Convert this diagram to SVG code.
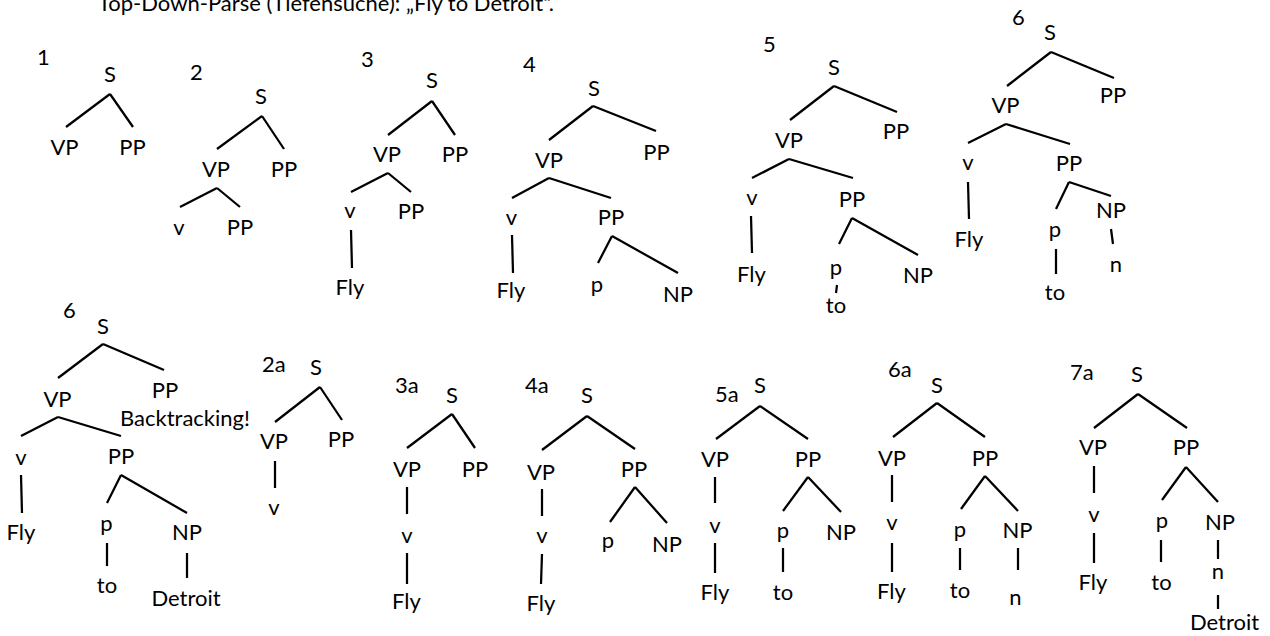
<svg xmlns="http://www.w3.org/2000/svg" width="1270" height="636" viewBox="0 0 1270 636">
<style>
text{font-family:Lato,"Liberation Sans",sans-serif;font-size:22px;fill:#000}
.l{text-anchor:middle}
.e line{stroke:#000;stroke-width:2.25;fill:none}
</style>
<rect width="1270" height="636" fill="#fff"/>
<text id="title" x="98" y="11">Top-Down-Parse (Tiefensuche): „Fly to Detroit“.</text>

<g id="tree1">
<g id="t1-num"><text x="37" y="65">1</text></g>
<g id="t1-S"><text class="l" x="110" y="82">S</text></g>
<g id="t1-VP"><text class="l" x="64.5" y="155">VP</text></g>
<g id="t1-PP"><text class="l" x="132.5" y="155">PP</text></g>
<g id="t1-edges" class="e"><line x1="110" y1="94" x2="66" y2="127"/><line x1="110" y1="94" x2="133" y2="127"/></g>
</g>

<g id="tree2">
<g id="t2-num"><text x="190" y="80">2</text></g>
<g id="t2-S"><text class="l" x="261" y="104">S</text></g>
<g id="t2-VP"><text class="l" x="216" y="177">VP</text></g>
<g id="t2-PP"><text class="l" x="284" y="177">PP</text></g>
<g id="t2-v"><text class="l" x="179" y="235">v</text></g>
<g id="t2-PP2"><text class="l" x="240" y="235">PP</text></g>
<g id="t2-edges" class="e"><line x1="262" y1="116" x2="217" y2="149"/><line x1="262" y1="116" x2="284" y2="149"/><line x1="217" y1="188" x2="180" y2="207"/><line x1="217" y1="188" x2="240" y2="207"/></g>
</g>

<g id="tree3">
<g id="t3-num"><text x="361" y="67">3</text></g>
<g id="t3-S"><text class="l" x="432" y="88">S</text></g>
<g id="t3-VP"><text class="l" x="387" y="162">VP</text></g>
<g id="t3-PP"><text class="l" x="455" y="162">PP</text></g>
<g id="t3-v"><text class="l" x="350" y="218">v</text></g>
<g id="t3-PP2"><text class="l" x="411" y="219">PP</text></g>
<g id="t3-Fly"><text class="l" x="350" y="295">Fly</text></g>
<g id="t3-edges" class="e"><line x1="432" y1="101" x2="388" y2="135"/><line x1="432" y1="101" x2="455" y2="135"/><line x1="388" y1="173" x2="351" y2="192"/><line x1="388" y1="173" x2="411" y2="192"/><line x1="351" y1="230" x2="352" y2="268"/></g>
</g>

<g id="tree4">
<g id="t4-num"><text x="523" y="72">4</text></g>
<g id="t4-S"><text class="l" x="594" y="96">S</text></g>
<g id="t4-VP"><text class="l" x="549" y="168">VP</text></g>
<g id="t4-PP"><text class="l" x="656.5" y="160">PP</text></g>
<g id="t4-v"><text class="l" x="511.5" y="225">v</text></g>
<g id="t4-PP2"><text class="l" x="611" y="225">PP</text></g>
<g id="t4-Fly"><text class="l" x="511" y="298">Fly</text></g>
<g id="t4-p"><text class="l" x="597" y="292">p</text></g>
<g id="t4-NP"><text class="l" x="678" y="302">NP</text></g>
<g id="t4-edges" class="e"><line x1="593" y1="106" x2="549" y2="140"/><line x1="593" y1="106" x2="656" y2="131"/><line x1="549" y1="178" x2="512" y2="198"/><line x1="549" y1="178" x2="611" y2="198"/><line x1="512" y1="235" x2="513" y2="273"/><line x1="612" y1="236" x2="598" y2="263"/><line x1="612" y1="236" x2="678" y2="273"/></g>
</g>

<g id="tree5">
<g id="t5-num"><text x="763" y="52">5</text></g>
<g id="t5-S"><text class="l" x="834" y="75">S</text></g>
<g id="t5-VP"><text class="l" x="789" y="148">VP</text></g>
<g id="t5-PP"><text class="l" x="896" y="139">PP</text></g>
<g id="t5-v"><text class="l" x="752" y="205">v</text></g>
<g id="t5-PP2"><text class="l" x="852" y="207">PP</text></g>
<g id="t5-Fly"><text class="l" x="751.5" y="282">Fly</text></g>
<g id="t5-p"><text class="l" x="836" y="275">p</text></g>
<g id="t5-NP"><text class="l" x="918" y="283">NP</text></g>
<g id="t5-to"><text class="l" x="836" y="313">to</text></g>
<g id="t5-edges" class="e"><line x1="834" y1="86" x2="790" y2="120"/><line x1="834" y1="86" x2="897" y2="112"/><line x1="789" y1="159" x2="752" y2="178"/><line x1="789" y1="159" x2="853" y2="178"/><line x1="751" y1="216" x2="752" y2="253"/><line x1="852" y1="218" x2="839" y2="244"/><line x1="852" y1="218" x2="918" y2="255"/><line x1="837" y1="285" x2="836" y2="293"/></g>
</g>

<g id="tree6">
<g id="t6-num"><text x="1012" y="25">6</text></g>
<g id="t6-S"><text class="l" x="1050" y="40">S</text></g>
<g id="t6-VP"><text class="l" x="1005.5" y="113">VP</text></g>
<g id="t6-PP"><text class="l" x="1113" y="103">PP</text></g>
<g id="t6-v"><text class="l" x="968" y="170">v</text></g>
<g id="t6-PP2"><text class="l" x="1069" y="171">PP</text></g>
<g id="t6-Fly"><text class="l" x="969" y="247">Fly</text></g>
<g id="t6-p"><text class="l" x="1055" y="237">p</text></g>
<g id="t6-NP"><text class="l" x="1111" y="218">NP</text></g>
<g id="t6-n"><text class="l" x="1116" y="272">n</text></g>
<g id="t6-to"><text class="l" x="1055" y="300">to</text></g>
<g id="t6-edges" class="e"><line x1="1051" y1="52" x2="1007" y2="86"/><line x1="1051" y1="52" x2="1114" y2="78"/><line x1="1006" y1="124" x2="968" y2="143"/><line x1="1006" y1="124" x2="1070" y2="144"/><line x1="968" y1="182" x2="969" y2="219"/><line x1="1069" y1="182" x2="1056" y2="209"/><line x1="1069" y1="182" x2="1111" y2="196"/><line x1="1056" y1="249" x2="1056" y2="274"/><line x1="1111" y1="229" x2="1113" y2="244"/></g>
</g>

<g id="tree6b">
<g id="t6b-num"><text x="63" y="318">6</text></g>
<g id="t6b-S"><text class="l" x="103" y="334">S</text></g>
<g id="t6b-VP"><text class="l" x="57.5" y="407">VP</text></g>
<g id="t6b-PP"><text class="l" x="165" y="398">PP</text></g>
<g id="t6b-bt"><text x="120" y="426">Backtracking!</text></g>
<g id="t6b-v"><text class="l" x="21" y="465">v</text></g>
<g id="t6b-PP2"><text class="l" x="121" y="464">PP</text></g>
<g id="t6b-Fly"><text class="l" x="21" y="540">Fly</text></g>
<g id="t6b-p"><text class="l" x="106.5" y="531">p</text></g>
<g id="t6b-NP"><text class="l" x="187" y="540">NP</text></g>
<g id="t6b-to"><text class="l" x="107" y="593">to</text></g>
<g id="t6b-Detroit"><text class="l" x="186" y="606">Detroit</text></g>
<g id="t6b-edges" class="e"><line x1="103" y1="344" x2="58" y2="378"/><line x1="103" y1="344" x2="164" y2="370"/><line x1="58" y1="417" x2="21" y2="436"/><line x1="58" y1="417" x2="121" y2="436"/><line x1="21" y1="475" x2="22" y2="513"/><line x1="121" y1="475" x2="107" y2="503"/><line x1="121" y1="475" x2="187" y2="513"/><line x1="107" y1="543" x2="107" y2="566"/><line x1="187" y1="553" x2="187" y2="578"/></g>
</g>

<g id="tree2a">
<g id="t2a-num"><text x="262" y="372">2a</text></g>
<g id="t2a-S"><text class="l" x="316" y="375">S</text></g>
<g id="t2a-VP"><text class="l" x="274" y="449">VP</text></g>
<g id="t2a-PP"><text class="l" x="341" y="447">PP</text></g>
<g id="t2a-v"><text class="l" x="274" y="515">v</text></g>
<g id="t2a-edges" class="e"><line x1="320" y1="387" x2="275" y2="422"/><line x1="320" y1="387" x2="342" y2="420"/><line x1="275" y1="461" x2="275" y2="488"/></g>
</g>

<g id="tree3a">
<g id="t3a-num"><text x="395" y="393">3a</text></g>
<g id="t3a-S"><text class="l" x="452" y="403">S</text></g>
<g id="t3a-VP"><text class="l" x="407" y="477">VP</text></g>
<g id="t3a-PP"><text class="l" x="475" y="477">PP</text></g>
<g id="t3a-v"><text class="l" x="407" y="543">v</text></g>
<g id="t3a-Fly"><text class="l" x="406.5" y="609">Fly</text></g>
<g id="t3a-edges" class="e"><line x1="452" y1="414" x2="407" y2="448"/><line x1="452" y1="414" x2="475" y2="448"/><line x1="407" y1="487" x2="407" y2="514"/><line x1="407" y1="553" x2="407" y2="584"/></g>
</g>

<g id="tree4a">
<g id="t4a-num"><text x="525" y="393">4a</text></g>
<g id="t4a-S"><text class="l" x="587" y="403">S</text></g>
<g id="t4a-VP"><text class="l" x="541" y="480">VP</text></g>
<g id="t4a-PP"><text class="l" x="634" y="477">PP</text></g>
<g id="t4a-v"><text class="l" x="542" y="543">v</text></g>
<g id="t4a-Fly"><text class="l" x="541" y="611">Fly</text></g>
<g id="t4a-p"><text class="l" x="608" y="548">p</text></g>
<g id="t4a-NP"><text class="l" x="667" y="552">NP</text></g>
<g id="t4a-edges" class="e"><line x1="587" y1="416" x2="542" y2="450"/><line x1="587" y1="416" x2="635" y2="449"/><line x1="542" y1="489" x2="542" y2="516"/><line x1="542" y1="554" x2="541" y2="584"/><line x1="635" y1="487" x2="610" y2="522"/><line x1="635" y1="487" x2="667" y2="523"/></g>
</g>

<g id="tree5a">
<g id="t5a-num"><text x="715" y="402">5a</text></g>
<g id="t5a-S"><text class="l" x="760" y="393">S</text></g>
<g id="t5a-VP"><text class="l" x="715" y="467">VP</text></g>
<g id="t5a-PP"><text class="l" x="808" y="467">PP</text></g>
<g id="t5a-v"><text class="l" x="715" y="533">v</text></g>
<g id="t5a-Fly"><text class="l" x="715" y="600">Fly</text></g>
<g id="t5a-p"><text class="l" x="783" y="538">p</text></g>
<g id="t5a-NP"><text class="l" x="841" y="540">NP</text></g>
<g id="t5a-to"><text class="l" x="783" y="600">to</text></g>
<g id="t5a-edges" class="e"><line x1="760" y1="406" x2="716" y2="439"/><line x1="760" y1="406" x2="808" y2="439"/><line x1="715" y1="477" x2="715" y2="503"/><line x1="715" y1="543" x2="715" y2="573"/><line x1="808" y1="477" x2="783" y2="511"/><line x1="808" y1="477" x2="841" y2="512"/><line x1="783" y1="548" x2="783" y2="572"/></g>
</g>

<g id="tree6a">
<g id="t6a-num"><text x="888" y="377">6a</text></g>
<g id="t6a-S"><text class="l" x="937" y="393">S</text></g>
<g id="t6a-VP"><text class="l" x="892" y="466">VP</text></g>
<g id="t6a-PP"><text class="l" x="985" y="466">PP</text></g>
<g id="t6a-v"><text class="l" x="892" y="530">v</text></g>
<g id="t6a-Fly"><text class="l" x="891.5" y="599">Fly</text></g>
<g id="t6a-p"><text class="l" x="960" y="537">p</text></g>
<g id="t6a-NP"><text class="l" x="1017.5" y="538">NP</text></g>
<g id="t6a-to"><text class="l" x="960" y="598">to</text></g>
<g id="t6a-n"><text class="l" x="1015.5" y="605">n</text></g>
<g id="t6a-edges" class="e"><line x1="937" y1="403" x2="893" y2="437"/><line x1="937" y1="403" x2="985" y2="437"/><line x1="892" y1="475" x2="892" y2="502"/><line x1="892" y1="543" x2="892" y2="572"/><line x1="985" y1="476" x2="961" y2="509"/><line x1="985" y1="476" x2="1018" y2="511"/><line x1="960" y1="548" x2="960" y2="570"/><line x1="1018" y1="548" x2="1018" y2="570"/></g>
</g>

<g id="tree7a">
<g id="t7a-num"><text x="1070" y="380">7a</text></g>
<g id="t7a-S"><text class="l" x="1137" y="382">S</text></g>
<g id="t7a-VP"><text class="l" x="1093" y="455">VP</text></g>
<g id="t7a-PP"><text class="l" x="1186" y="455">PP</text></g>
<g id="t7a-v"><text class="l" x="1094" y="522">v</text></g>
<g id="t7a-Fly"><text class="l" x="1093" y="590">Fly</text></g>
<g id="t7a-p"><text class="l" x="1162" y="528">p</text></g>
<g id="t7a-NP"><text class="l" x="1220" y="530">NP</text></g>
<g id="t7a-to"><text class="l" x="1161.5" y="590">to</text></g>
<g id="t7a-n"><text class="l" x="1218" y="579">n</text></g>
<g id="t7a-Detroit"><text class="l" x="1224.5" y="630">Detroit</text></g>
<g id="t7a-edges" class="e"><line x1="1138" y1="394" x2="1094" y2="428"/><line x1="1138" y1="394" x2="1187" y2="428"/><line x1="1094" y1="466" x2="1094" y2="493"/><line x1="1094" y1="533" x2="1094" y2="563"/><line x1="1186" y1="467" x2="1162" y2="500"/><line x1="1186" y1="467" x2="1218" y2="502"/><line x1="1161" y1="540" x2="1161" y2="562"/><line x1="1218" y1="540" x2="1218" y2="559"/><line x1="1218" y1="595" x2="1218" y2="609"/></g>
</g>
</svg>
